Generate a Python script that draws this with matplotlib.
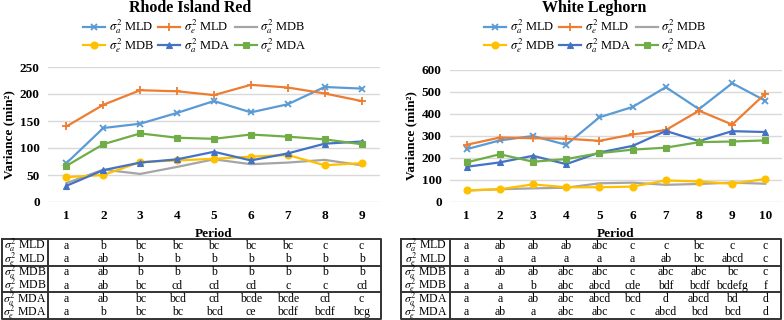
import matplotlib
matplotlib.use("Agg")
import matplotlib.pyplot as plt

plt.rcParams['font.family'] = ['Liberation Serif', 'DejaVu Serif']
plt.rcParams['mathtext.fontset'] = 'stix'

# ---------------- data ----------------
series_names = [r"$\sigma_a^2$ MLD", r"$\sigma_e^2$ MLD", r"$\sigma_a^2$ MDB",
                r"$\sigma_e^2$ MDB", r"$\sigma_a^2$ MDA", r"$\sigma_e^2$ MDA"]
colors = ["#5B9BD5", "#ED7D31", "#A5A5A5", "#FFC000", "#4472C4", "#70AD47"]
markers = ["x", "+", None, "o", "^", "s"]

rir_periods = [1, 2, 3, 4, 5, 6, 7, 8, 9]
rir_a_mld = [72, 137, 145, 165, 187, 166, 181, 213, 210]
rir_e_mld = [140, 180, 207, 205, 198, 217, 212, 201, 187]
rir_a_mdb = [35, 60, 52, 65, 79, 70, 73, 78, 68]
rir_e_mdb = [46, 50, 74, 77, 80, 84, 87, 68, 72]
rir_a_mda = [30, 59, 73, 79, 93, 77, 90, 108, 112]
rir_e_mda = [67, 107, 127, 119, 117, 125, 121, 116, 107]

wl_periods = [1, 2, 3, 4, 5, 6, 7, 8, 9, 10]
wl_a_mld = [240, 280, 300, 260, 385, 432, 522, 422, 540, 460]
wl_e_mld = [260, 293, 290, 288, 278, 307, 327, 415, 352, 493]
wl_a_mdb = [52, 58, 62, 65, 85, 88, 78, 82, 88, 83]
wl_e_mdb = [53, 58, 80, 67, 67, 70, 98, 93, 83, 105]
wl_a_mda = [160, 180, 210, 172, 225, 255, 323, 277, 322, 318]
wl_e_mda = [180, 217, 183, 195, 222, 238, 247, 272, 275, 280]

rir_table = [
    ["a", "b", "bc", "bc", "bc", "bc", "bc", "c", "c"],
    ["a", "ab", "b", "b", "b", "b", "b", "b", "b"],
    ["a", "ab", "b", "b", "b", "b", "b", "b", "b"],
    ["a", "ab", "bc", "cd", "cd", "cd", "c", "c", "cd"],
    ["a", "ab", "bc", "bcd", "cd", "bcde", "bcde", "cd", "c"],
    ["a", "b", "bc", "bc", "bcd", "ce", "bcdf", "bcdf", "bcg"],
]
wl_table = [
    ["a", "ab", "ab", "ab", "abc", "c", "c", "bc", "c", "c"],
    ["a", "a", "a", "a", "a", "a", "ab", "bc", "abcd", "c"],
    ["a", "ab", "ab", "abc", "abc", "c", "abc", "abc", "bc", "c"],
    ["a", "a", "b", "abc", "abcd", "cde", "bdf", "bcdf", "bcdefg", "f"],
    ["a", "a", "ab", "abc", "abcd", "bcd", "d", "abcd", "bd", "d"],
    ["a", "ab", "a", "abc", "abc", "c", "abcd", "bcd", "bcd", "d"],
]

W, H = 784, 320
fig = plt.figure(figsize=(W / 100, H / 100), dpi=100)


def px_axes(x0, x1, ytop, ybot):
    return fig.add_axes([x0 / W, (H - ybot) / H, (x1 - x0) / W, (ybot - ytop) / H])


def draw_panel(title, periods, data, ylim, yticks, plot_box, table_box, table,
               title_x, legend_x):
    px0, px1, pyt, pyb = plot_box
    ax = px_axes(px0, px1, pyt, pyb)
    n = len(periods)
    for vals, name, c, m in zip(data, series_names, colors, markers):
        kw = dict(color=c, lw=1.6, label=name)
        if m is not None:
            kw.update(marker=m, markersize=5 if m != "+" else 6,
                      markeredgewidth=1.3 if m in ("x", "+") else 0.8)
        ax.plot(periods, vals, **kw)
    ax.set_xlim(0.5, n + 0.5)
    ax.set_ylim(*ylim)
    ax.set_yticks(yticks)
    ax.set_xticks(periods)
    ax.grid(axis="y", color="#D9D9D9", lw=1)
    ax.set_axisbelow(True)
    for s in ax.spines.values():
        s.set_visible(False)
    ax.tick_params(length=0, labelsize=9.5, pad=6)
    for lab in ax.get_xticklabels() + ax.get_yticklabels():
        lab.set_fontweight("bold")
    ax.set_ylabel("Variance (min²)", fontsize=9.5, fontweight="bold", labelpad=3)
    ax.set_xlabel("Period", fontsize=9.5, fontweight="bold", labelpad=4)
    fig.text(title_x / W, 1 - 7.5 / H, title, ha="center", va="center",
             fontsize=11.5, fontweight="bold")
    handles, labels = ax.get_legend_handles_labels()
    order = [0, 3, 1, 4, 2, 5]
    fig.legend([handles[i] for i in order], [labels[i] for i in order],
               loc="center", bbox_to_anchor=(legend_x / W, 1 - 36.5 / H), ncol=3,
               frameon=False, fontsize=9, handlelength=1.75, handletextpad=0.3,
               columnspacing=0.35, labelspacing=0.0, borderpad=0)

    # table
    tx0, tx1, tyt, tyb = table_box
    tax = px_axes(tx0, tx1, tyt, tyb)
    unit = (px1 - px0) / n
    left = 0.5 - (px0 - tx0) / unit
    right = 0.5 + (tx1 - px0) / unit
    tax.set_xlim(left, right)
    tax.set_ylim(6, 0)
    tax.axis("off")
    lc = "#333333"
    lw = 1.4
    tax.plot([left, right, right, left, left], [0, 0, 6, 6, 0], color=lc, lw=lw,
             clip_on=False)
    tax.plot([0.5, 0.5], [0, 6], color=lc, lw=lw, clip_on=False)
    for yy in (2, 4):
        tax.plot([left, right], [yy, yy], color=lc, lw=lw, clip_on=False)
    for r, row in enumerate(table):
        tax.text((left + 0.5) / 2, r + 0.5, series_names[r], ha="center",
                 va="center", fontsize=8.5)
        for p, txt in zip(periods, row):
            tax.text(p, r + 0.5, txt, ha="center", va="center", fontsize=8.5)


draw_panel("Rhode Island Red", rir_periods,
           [rir_a_mld, rir_e_mld, rir_a_mdb, rir_e_mdb, rir_a_mda, rir_e_mda],
           (0, 250), [0, 50, 100, 150, 200, 250],
           (48, 380, 67, 202), (2, 381, 239, 319), rir_table, 190, 195)
draw_panel("White Leghorn", wl_periods,
           [wl_a_mld, wl_e_mld, wl_a_mdb, wl_e_mdb, wl_a_mda, wl_e_mda],
           (0, 600), [0, 100, 200, 300, 400, 500, 600],
           (450, 782, 70, 202), (401, 781, 239, 319), wl_table, 594, 596)

fig.savefig("out.png", dpi=100)
